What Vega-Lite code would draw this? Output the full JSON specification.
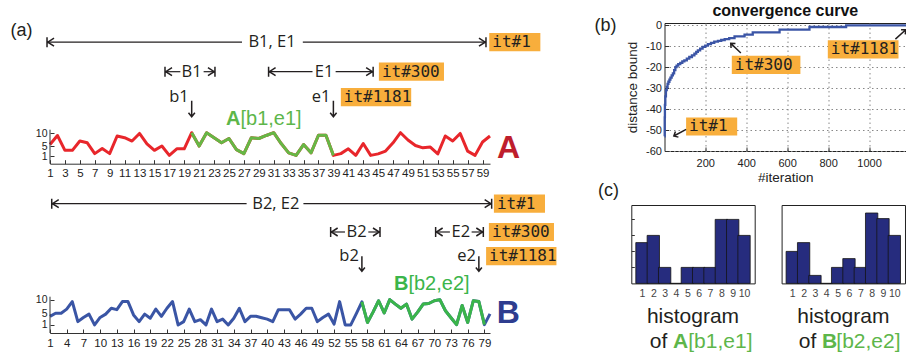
{
  "$schema": "https://vega.github.io/schema/vega-lite/v6.json",
  "padding": {"left": 9, "top": 2, "right": 0, "bottom": 0},
  "background": "white",
  "datasets": {
    "seriesA": [
      {"i":1,"v":5.6,"sel":false},{"i":2,"v":9.2,"sel":false},{"i":3,"v":3.3,"sel":false},{"i":4,"v":3.3,"sel":false},{"i":5,"v":7.0,"sel":false},
      {"i":6,"v":6.3,"sel":false},{"i":7,"v":2.0,"sel":false},{"i":8,"v":4.0,"sel":false},{"i":9,"v":2.0,"sel":false},{"i":10,"v":9.0,"sel":false},
      {"i":11,"v":8.3,"sel":false},{"i":12,"v":7.0,"sel":false},{"i":13,"v":10.0,"sel":false},{"i":14,"v":5.9,"sel":false},{"i":15,"v":3.3,"sel":false},
      {"i":16,"v":5.0,"sel":false},{"i":17,"v":1.3,"sel":false},{"i":18,"v":3.9,"sel":false},{"i":19,"v":3.9,"sel":false},{"i":20,"v":10.3,"sel":true},
      {"i":21,"v":5.0,"sel":true},{"i":22,"v":10.3,"sel":true},{"i":23,"v":8.3,"sel":true},{"i":24,"v":6.3,"sel":true},{"i":25,"v":8.0,"sel":true},
      {"i":26,"v":3.6,"sel":true},{"i":27,"v":2.0,"sel":true},{"i":28,"v":8.3,"sel":true},{"i":29,"v":8.0,"sel":true},{"i":30,"v":9.2,"sel":true},
      {"i":31,"v":10.3,"sel":true},{"i":32,"v":6.0,"sel":true},{"i":33,"v":2.3,"sel":true},{"i":34,"v":1.3,"sel":true},{"i":35,"v":5.6,"sel":true},
      {"i":36,"v":2.3,"sel":true},{"i":37,"v":9.3,"sel":true},{"i":38,"v":9.3,"sel":true},{"i":39,"v":1.3,"sel":true},{"i":40,"v":2.0,"sel":false},
      {"i":41,"v":3.9,"sel":false},{"i":42,"v":1.3,"sel":false},{"i":43,"v":6.0,"sel":false},{"i":44,"v":1.3,"sel":false},{"i":45,"v":1.9,"sel":false},
      {"i":46,"v":3.0,"sel":false},{"i":47,"v":6.3,"sel":false},{"i":48,"v":10.3,"sel":false},{"i":49,"v":7.4,"sel":false},{"i":50,"v":5.2,"sel":false},
      {"i":51,"v":4.3,"sel":false},{"i":52,"v":4.6,"sel":false},{"i":53,"v":1.9,"sel":false},{"i":54,"v":9.0,"sel":false},{"i":55,"v":7.0,"sel":false},
      {"i":56,"v":10.0,"sel":false},{"i":57,"v":3.0,"sel":false},{"i":58,"v":1.3,"sel":false},{"i":59,"v":6.6,"sel":false},{"i":60,"v":9.0,"sel":false}
    ],
    "seriesB": [
      {"i":1,"v":4.0,"sel":false},{"i":2,"v":5.1,"sel":false},{"i":3,"v":5.1,"sel":false},{"i":4,"v":6.6,"sel":false},{"i":5,"v":9.3,"sel":false},
      {"i":6,"v":2.1,"sel":false},{"i":7,"v":3.6,"sel":false},{"i":8,"v":4.8,"sel":false},{"i":9,"v":0.9,"sel":false},{"i":10,"v":3.6,"sel":false},
      {"i":11,"v":4.8,"sel":false},{"i":12,"v":6.9,"sel":false},{"i":13,"v":6.4,"sel":false},{"i":14,"v":9.3,"sel":false},{"i":15,"v":9.3,"sel":false},
      {"i":16,"v":4.5,"sel":false},{"i":17,"v":2.1,"sel":false},{"i":18,"v":4.8,"sel":false},{"i":19,"v":3.3,"sel":false},{"i":20,"v":6.6,"sel":false},
      {"i":21,"v":4.0,"sel":false},{"i":22,"v":6.9,"sel":false},{"i":23,"v":9.3,"sel":false},{"i":24,"v":0.9,"sel":false},{"i":25,"v":2.1,"sel":false},
      {"i":26,"v":6.6,"sel":false},{"i":27,"v":2.1,"sel":false},{"i":28,"v":2.8,"sel":false},{"i":29,"v":0.9,"sel":false},{"i":30,"v":6.6,"sel":false},
      {"i":31,"v":2.1,"sel":false},{"i":32,"v":3.0,"sel":false},{"i":33,"v":0.9,"sel":false},{"i":34,"v":3.3,"sel":false},{"i":35,"v":6.9,"sel":false},
      {"i":36,"v":2.1,"sel":false},{"i":37,"v":4.0,"sel":false},{"i":38,"v":4.0,"sel":false},{"i":39,"v":3.5,"sel":false},{"i":40,"v":3.0,"sel":false},
      {"i":41,"v":2.1,"sel":false},{"i":42,"v":6.4,"sel":false},{"i":43,"v":6.4,"sel":false},{"i":44,"v":6.4,"sel":false},{"i":45,"v":3.0,"sel":false},
      {"i":46,"v":4.8,"sel":false},{"i":47,"v":6.9,"sel":false},{"i":48,"v":6.9,"sel":false},{"i":49,"v":2.1,"sel":false},{"i":50,"v":3.6,"sel":false},
      {"i":51,"v":4.8,"sel":false},{"i":52,"v":1.2,"sel":false},{"i":53,"v":9.3,"sel":false},{"i":54,"v":0.9,"sel":false},{"i":55,"v":0.9,"sel":false},
      {"i":56,"v":5.0,"sel":false},{"i":57,"v":9.2,"sel":true},{"i":58,"v":1.8,"sel":true},{"i":59,"v":5.5,"sel":true},{"i":60,"v":9.6,"sel":true},
      {"i":61,"v":5.2,"sel":true},{"i":62,"v":10.0,"sel":true},{"i":63,"v":8.4,"sel":true},{"i":64,"v":6.9,"sel":true},{"i":65,"v":8.4,"sel":true},
      {"i":66,"v":3.0,"sel":true},{"i":67,"v":5.5,"sel":true},{"i":68,"v":8.4,"sel":true},{"i":69,"v":8.6,"sel":true},{"i":70,"v":9.6,"sel":true},
      {"i":71,"v":10.0,"sel":true},{"i":72,"v":6.0,"sel":true},{"i":73,"v":3.5,"sel":true},{"i":74,"v":1.0,"sel":true},{"i":75,"v":7.9,"sel":true},
      {"i":76,"v":1.8,"sel":true},{"i":77,"v":9.6,"sel":true},{"i":78,"v":9.3,"sel":true},{"i":79,"v":1.0,"sel":true},{"i":80,"v":4.9,"sel":false}
    ],
    "segA": [
      {"x":0.6,"x2":26.75,"y":46.21},{"x":34.9,"x2":59.46,"y":46.21},
      {"x":16.42,"x2":18.48,"y":34.51},{"x":21.6,"x2":23.12,"y":34.51},
      {"x":30.31,"x2":36.2,"y":34.51},{"x":39.3,"x2":44.33,"y":34.51}
    ],
    "headA": [
      {"x":0.6,"y":46.21,"dir":"L"},{"x":59.46,"y":46.21,"dir":"R"},
      {"x":16.42,"y":34.51,"dir":"L"},{"x":23.12,"y":34.51,"dir":"R"},
      {"x":30.31,"y":34.51,"dir":"L"},{"x":44.33,"y":34.51,"dir":"R"}
    ],
    "txtA": [{"x":30.77,"y":46.21,"t":"B1, E1"},{"x":19.99,"y":34.51,"t":"B1"},{"x":37.76,"y":34.51,"t":"E1"}],
    "ptrA": [{"x":20,"y":24.39,"ay":19.83,"t":"b1"},{"x":39,"y":24.39,"ay":19.83,"t":"e1"}],
    "itA": [{"x":59.9,"y":46.21,"lab":"it#1"},{"x":45.1,"y":34.51,"lab":"it#300"},{"x":40.0,"y":24.39,"lab":"it#1181"}],
    "segB": [
      {"x":1.31,"x2":36.3,"y":44.51},{"x":46.5,"x2":80.3,"y":44.51},
      {"x":51.39,"x2":53.96,"y":34.33},{"x":58.15,"x2":60.25,"y":34.33},
      {"x":70.24,"x2":72.8,"y":34.33},{"x":76.7,"x2":78.8,"y":34.33}
    ],
    "headB": [
      {"x":1.31,"y":44.51,"dir":"L"},{"x":80.3,"y":44.51,"dir":"R"},
      {"x":51.39,"y":34.33,"dir":"L"},{"x":60.25,"y":34.33,"dir":"R"},
      {"x":70.24,"y":34.33,"dir":"L"},{"x":78.8,"y":34.33,"dir":"R"}
    ],
    "txtB": [{"x":41.55,"y":44.51,"t":"B2, E2"},{"x":56.06,"y":34.33,"t":"B2"},{"x":74.75,"y":34.33,"t":"E2"}],
    "ptrB": [{"x":57,"y":25.63,"ay":22.93,"t":"b2"},{"x":78,"y":25.63,"ay":22.93,"t":"e2"}],
    "itB": [{"x":80.7,"y":44.51,"lab":"it#1"},{"x":79.8,"y":34.33,"lab":"it#300"},{"x":79.3,"y":25.63,"lab":"it#1181"}],
    "conv": [
      {"it":1,"d":-53},{"it":2,"d":-44},{"it":3,"d":-38},{"it":5,"d":-34},{"it":8,"d":-31},{"it":12,"d":-29.5},
      {"it":16,"d":-28},{"it":20,"d":-27},{"it":25,"d":-26},{"it":30,"d":-25},{"it":36,"d":-24},{"it":42,"d":-23},
      {"it":48,"d":-21.5},{"it":54,"d":-20},{"it":60,"d":-19.3},{"it":68,"d":-18.6},{"it":78,"d":-18},{"it":88,"d":-17.3},
      {"it":98,"d":-16.8},{"it":110,"d":-16},{"it":122,"d":-15.2},{"it":135,"d":-14.4},{"it":147,"d":-13.6},{"it":156,"d":-12.8},
      {"it":164,"d":-12},{"it":175,"d":-11.2},{"it":187,"d":-10.4},{"it":200,"d":-9.8},{"it":213,"d":-9.1},{"it":228,"d":-8.5},
      {"it":244,"d":-7.9},{"it":262,"d":-7.5},{"it":278,"d":-7.1},{"it":295,"d":-6.7},{"it":317,"d":-6.2},{"it":343,"d":-5.4},
      {"it":392,"d":-4.5},{"it":432,"d":-3.5},{"it":563,"d":-2.2},{"it":709,"d":-0.9},{"it":888,"d":-0.15},{"it":1181,"d":-0.15}
    ],
    "itC": [{"x":106.5,"y":-48.32,"lab":"it#1"},{"x":329.7,"y":-18.97,"lab":"it#300"},{"x":798.6,"y":-11.58,"lab":"it#1181"}],
    "arrC": [{"x":76.7,"y":-51.28,"lab":"it#1"},{"x":349.2,"y":-11.0,"lab":"it#300"},{"x":1154,"y":-4.43,"lab":"it#1181"}],
    "histA": [
      {"bin":1,"c":2.55},{"bin":2,"c":3.0},{"bin":3,"c":1.0},{"bin":4,"c":0},{"bin":5,"c":1.0},
      {"bin":6,"c":1.0},{"bin":7,"c":1.0},{"bin":8,"c":4.0},{"bin":9,"c":4.0},{"bin":10,"c":3.0}
    ],
    "histB": [
      {"bin":1,"c":2.0},{"bin":2,"c":2.55},{"bin":3,"c":0.5},{"bin":4,"c":0},{"bin":5,"c":1.0},
      {"bin":6,"c":1.55},{"bin":7,"c":1.0},{"bin":8,"c":4.4},{"bin":9,"c":4.05},{"bin":10,"c":3.0}
    ]
  },
  "spacing": -3,
  "vconcat": [
    {
      "spacing": 52.5,
      "hconcat": [
        {
          "width": 440,
          "height": 140.7,
          "layer": [
            {
              "data": {"name": "seriesA"},
              "mark": {"type": "line", "color": "#E8262B", "strokeWidth": 3, "strokeJoin": "round"},
              "encoding": {
                "x": {"field": "i", "type": "quantitative", "scale": {"domain": [1, 60], "nice": false, "zero": false},
                  "axis": {"values": [1,3,5,7,9,11,13,15,17,19,21,23,25,27,29,31,33,35,37,39,41,43,45,47,49,51,53,55,57,59], "tickCount": 100, "format": "d", "title": null, "tickSize": -4, "labelFontSize": 11.5, "labelPadding": 8, "labelOverlap": false, "labelFlush": false, "labelBound": false}},
                "y": {"field": "v", "type": "quantitative", "scale": {"domain": [-2, 53.83], "nice": false, "zero": false},
                  "axis": {"values": [1, 5, 10], "tickCount": 100, "format": "d", "title": null, "domain": false, "tickSize": -4, "labelFontSize": 10.5, "labelPadding": 7, "labelOverlap": false, "minExtent": 41, "maxExtent": 41}}
              }
            },
            {
              "data": {"name": "seriesA"},
              "transform": [{"filter": "datum.sel"}],
              "mark": {"type": "line", "color": "#66B745", "strokeWidth": 3, "strokeJoin": "round"},
              "encoding": {"x": {"field": "i", "type": "quantitative"}, "y": {"field": "v", "type": "quantitative"}}
            },
            {
              "data": {"values": [{}]},
              "mark": {"type": "rule", "color": "#333", "strokeWidth": 1},
              "encoding": {"x": {"datum": 1}, "y": {"datum": -2}, "y2": {"datum": 11.5}}
            },
            {
              "data": {"name": "segA"},
              "mark": {"type": "rule", "color": "#231F20", "strokeWidth": 1.2},
              "encoding": {"x": {"field": "x", "type": "quantitative"}, "x2": {"field": "x2"}, "y": {"field": "y", "type": "quantitative"}}
            },
            {
              "data": {"name": "headA"},
              "mark": {"type": "point", "filled": false, "size": 100, "strokeWidth": 1.5, "color": "#231F20", "opacity": 1},
              "encoding": {
                "x": {"field": "x", "type": "quantitative"}, "y": {"field": "y", "type": "quantitative"},
                "shape": {"condition": {"test": "datum.dir === 'L'", "value": "M0,-1V1M1.4,-0.8L0.15,0L1.4,0.8"}, "value": "M0,-1V1M-1.4,-0.8L-0.15,0L-1.4,0.8"}
              }
            },
            {
              "data": {"name": "txtA"},
              "mark": {"type": "text", "font": "Open Sans", "fontSize": 16.5, "color": "#231F20", "align": "center", "baseline": "middle"},
              "encoding": {"x": {"field": "x", "type": "quantitative"}, "y": {"field": "y", "type": "quantitative"}, "text": {"field": "t"}}
            },
            {
              "data": {"name": "ptrA"},
              "mark": {"type": "text", "font": "Open Sans", "fontSize": 16.5, "color": "#231F20", "align": "right", "baseline": "middle", "dx": -3},
              "encoding": {"x": {"field": "x", "type": "quantitative"}, "y": {"field": "y", "type": "quantitative"}, "text": {"field": "t"}}
            },
            {
              "data": {"name": "ptrA"},
              "mark": {"type": "point", "filled": false, "size": 256, "strokeWidth": 1.5, "color": "#231F20", "opacity": 1, "shape": "M0,-1V1M-0.4,0.5L0,1L0.4,0.5"},
              "encoding": {"x": {"field": "x", "type": "quantitative"}, "y": {"field": "ay", "type": "quantitative"}}
            },
            {
              "data": {"name": "itA"},
              "mark": {"type": "point", "filled": true, "size": 4900, "color": "#F8AE3C", "opacity": 1, "strokeWidth": 0},
              "encoding": {
                "x": {"field": "x", "type": "quantitative"}, "y": {"field": "y", "type": "quantitative"},
                "shape": {"condition": [{"test": "datum.lab === 'it#1'", "value": "M0,-0.26H1.46V0.26H0Z"}, {"test": "datum.lab === 'it#300'", "value": "M0,-0.26H1.86V0.26H0Z"}], "value": "M0,-0.26H2.01V0.26H0Z"}
              }
            },
            {
              "data": {"name": "itA"},
              "mark": {"type": "text", "font": "DejaVu Sans Mono", "fontSize": 16, "color": "#231F20", "align": "left", "baseline": "middle", "dx": 3},
              "encoding": {"x": {"field": "x", "type": "quantitative"}, "y": {"field": "y", "type": "quantitative"}, "text": {"field": "lab"}}
            },
            {
              "data": {"values": [{}]},
              "mark": {"type": "text", "font": "Liberation Sans", "fontSize": 20, "fontWeight": "bold", "color": "#5DB64A", "align": "right", "baseline": "middle"},
              "encoding": {"x": {"datum": 26.54}, "y": {"datum": 15.86}, "text": {"value": "A"}}
            },
            {
              "data": {"values": [{}]},
              "mark": {"type": "text", "font": "Liberation Sans", "fontSize": 20, "color": "#5DB64A", "align": "left", "baseline": "middle"},
              "encoding": {"x": {"datum": 26.54}, "y": {"datum": 15.86}, "text": {"value": "[b1,e1]"}}
            },
            {
              "data": {"values": [{}]},
              "mark": {"type": "text", "font": "Liberation Sans", "fontSize": 32, "fontWeight": "bold", "color": "#BE1E2D", "align": "center", "baseline": "middle"},
              "encoding": {"x": {"datum": 62.5}, "y": {"datum": 4.15}, "text": {"value": "A"}}
            },
            {
              "data": {"values": [{}]},
              "mark": {"type": "text", "font": "Liberation Sans", "fontSize": 18, "color": "#231F20", "align": "center", "baseline": "middle"},
              "encoding": {"x": {"datum": -2.82}, "y": {"datum": 50.58}, "text": {"value": "(a)"}}
            }
          ]
        },
        {
          "width": 241.6,
          "height": 128,
          "title": {"text": "convergence curve", "fontSize": 16, "fontWeight": "bold", "font": "Liberation Sans", "color": "#111", "offset": -1.7, "anchor": "middle"},
          "view": {"stroke": "#222", "strokeWidth": 1},
          "layer": [
            {
              "data": {"name": "conv"},
              "mark": {"type": "line", "interpolate": "step-after", "color": "#3B55A6", "strokeWidth": 2.3},
              "encoding": {
                "x": {"field": "it", "type": "quantitative", "scale": {"domain": [1, 1181], "nice": false, "zero": false},
                  "axis": {"values": [200, 400, 600, 800, 1000], "tickCount": 100, "format": "d", "title": "#iteration", "titleFontSize": 13.5, "titlePadding": 2, "grid": true, "gridDash": [1.5, 3], "gridColor": "#888", "domain": false, "tickSize": -4, "labelPadding": 10, "labelFontSize": 11, "labelFlush": false, "labelOverlap": false}},
                "y": {"field": "d", "type": "quantitative", "scale": {"domain": [-60, 1], "nice": false, "zero": false},
                  "axis": {"values": [-60, -50, -40, -30, -20, -10, 0], "tickCount": 100, "labelExpr": "datum.value + ''", "title": "distance bound", "titleFontSize": 13.5, "titlePadding": 6, "grid": true, "gridDash": [1.5, 3], "gridColor": "#888", "domain": false, "tickSize": -4, "labelPadding": 7, "labelFontSize": 11, "labelOverlap": false}}
              }
            },
            {
              "data": {"name": "itC"},
              "mark": {"type": "point", "filled": true, "size": 4900, "color": "#F8AE3C", "opacity": 1, "strokeWidth": 0},
              "encoding": {
                "x": {"field": "x", "type": "quantitative"}, "y": {"field": "y", "type": "quantitative"},
                "shape": {"condition": [{"test": "datum.lab === 'it#1'", "value": "M0,-0.26H1.46V0.26H0Z"}, {"test": "datum.lab === 'it#300'", "value": "M0,-0.26H1.96V0.26H0Z"}], "value": "M0,-0.26H2.02V0.26H0Z"}
              }
            },
            {
              "data": {"name": "itC"},
              "mark": {"type": "text", "font": "DejaVu Sans Mono", "fontSize": 16, "color": "#231F20", "align": "left", "baseline": "middle", "dx": 3},
              "encoding": {"x": {"field": "x", "type": "quantitative"}, "y": {"field": "y", "type": "quantitative"}, "text": {"field": "lab"}}
            },
            {
              "data": {"name": "arrC"},
              "mark": {"type": "point", "filled": false, "size": 196, "strokeWidth": 1.5, "color": "#231F20", "opacity": 1},
              "encoding": {
                "x": {"field": "x", "type": "quantitative"}, "y": {"field": "y", "type": "quantitative"},
                "shape": {"condition": [{"test": "datum.lab === 'it#1'", "value": "M0.879,-0.471L-0.879,0.471M-0.228,0.631L-0.879,0.471L-0.651,-0.160"}, {"test": "datum.lab === 'it#300'", "value": "M0.723,0.692L-0.723,-0.692M-0.050,-0.671L-0.723,-0.692L-0.673,-0.021"}], "value": "M-0.740,0.673L0.740,-0.673M0.673,-0.004L0.740,-0.673L0.067,-0.670"}
              }
            },
            {
              "data": {"values": [{}]},
              "mark": {"type": "text", "font": "Liberation Sans", "fontSize": 18, "color": "#231F20", "align": "center", "baseline": "middle"},
              "encoding": {"x": {"datum": -287.2}, "y": {"datum": -0.62}, "text": {"value": "(b)"}}
            }
          ]
        }
      ]
    },
    {
      "spacing": 25.3,
      "hconcat": [
        {
          "width": 440,
          "height": 128,
          "layer": [
            {
              "data": {"name": "seriesB"},
              "mark": {"type": "line", "color": "#3A55A5", "strokeWidth": 3, "strokeJoin": "round"},
              "encoding": {
                "x": {"field": "i", "type": "quantitative", "scale": {"domain": [1, 80], "nice": false, "zero": false},
                  "axis": {"values": [1,4,7,10,13,16,19,22,25,28,31,34,37,40,43,46,49,52,55,58,61,64,67,70,73,76,79], "tickCount": 100, "format": "d", "title": null, "tickSize": -4, "labelFontSize": 11.5, "labelPadding": 8, "labelOverlap": false, "labelFlush": false, "labelBound": false}},
                "y": {"field": "v", "type": "quantitative", "scale": {"domain": [-2, 44.04], "nice": false, "zero": false},
                  "axis": {"values": [1, 5, 10], "tickCount": 100, "format": "d", "title": null, "domain": false, "tickSize": -4, "labelFontSize": 10.5, "labelPadding": 7, "labelOverlap": false, "minExtent": 41, "maxExtent": 41}}
              }
            },
            {
              "data": {"name": "seriesB"},
              "transform": [{"filter": "datum.sel"}],
              "mark": {"type": "line", "color": "#3AB54A", "strokeWidth": 3, "strokeJoin": "round"},
              "encoding": {"x": {"field": "i", "type": "quantitative"}, "y": {"field": "v", "type": "quantitative"}}
            },
            {
              "data": {"values": [{}]},
              "mark": {"type": "rule", "color": "#333", "strokeWidth": 1},
              "encoding": {"x": {"datum": 1}, "y": {"datum": -2}, "y2": {"datum": 11.06}}
            },
            {
              "data": {"name": "segB"},
              "mark": {"type": "rule", "color": "#231F20", "strokeWidth": 1.2},
              "encoding": {"x": {"field": "x", "type": "quantitative"}, "x2": {"field": "x2"}, "y": {"field": "y", "type": "quantitative"}}
            },
            {
              "data": {"name": "headB"},
              "mark": {"type": "point", "filled": false, "size": 100, "strokeWidth": 1.5, "color": "#231F20", "opacity": 1},
              "encoding": {
                "x": {"field": "x", "type": "quantitative"}, "y": {"field": "y", "type": "quantitative"},
                "shape": {"condition": {"test": "datum.dir === 'L'", "value": "M0,-1V1M1.4,-0.8L0.15,0L1.4,0.8"}, "value": "M0,-1V1M-1.4,-0.8L-0.15,0L-1.4,0.8"}
              }
            },
            {
              "data": {"name": "txtB"},
              "mark": {"type": "text", "font": "Open Sans", "fontSize": 16.5, "color": "#231F20", "align": "center", "baseline": "middle"},
              "encoding": {"x": {"field": "x", "type": "quantitative"}, "y": {"field": "y", "type": "quantitative"}, "text": {"field": "t"}}
            },
            {
              "data": {"name": "ptrB"},
              "mark": {"type": "text", "font": "Open Sans", "fontSize": 16.5, "color": "#231F20", "align": "right", "baseline": "middle", "dx": -3},
              "encoding": {"x": {"field": "x", "type": "quantitative"}, "y": {"field": "y", "type": "quantitative"}, "text": {"field": "t"}}
            },
            {
              "data": {"name": "ptrB"},
              "mark": {"type": "point", "filled": false, "size": 225, "strokeWidth": 1.5, "color": "#231F20", "opacity": 1, "shape": "M0,-1V1M-0.4,0.5L0,1L0.4,0.5"},
              "encoding": {"x": {"field": "x", "type": "quantitative"}, "y": {"field": "ay", "type": "quantitative"}}
            },
            {
              "data": {"name": "itB"},
              "mark": {"type": "point", "filled": true, "size": 4900, "color": "#F8AE3C", "opacity": 1, "strokeWidth": 0},
              "encoding": {
                "x": {"field": "x", "type": "quantitative"}, "y": {"field": "y", "type": "quantitative"},
                "shape": {"condition": [{"test": "datum.lab === 'it#1'", "value": "M0,-0.26H1.46V0.26H0Z"}, {"test": "datum.lab === 'it#300'", "value": "M0,-0.26H1.86V0.26H0Z"}], "value": "M0,-0.26H2.01V0.26H0Z"}
              }
            },
            {
              "data": {"name": "itB"},
              "mark": {"type": "text", "font": "DejaVu Sans Mono", "fontSize": 16, "color": "#231F20", "align": "left", "baseline": "middle", "dx": 3},
              "encoding": {"x": {"field": "x", "type": "quantitative"}, "y": {"field": "y", "type": "quantitative"}, "text": {"field": "lab"}}
            },
            {
              "data": {"values": [{}]},
              "mark": {"type": "text", "font": "Liberation Sans", "fontSize": 20, "fontWeight": "bold", "color": "#3BB54A", "align": "right", "baseline": "middle"},
              "encoding": {"x": {"datum": 65.35}, "y": {"datum": 15.73}, "text": {"value": "B"}}
            },
            {
              "data": {"values": [{}]},
              "mark": {"type": "text", "font": "Liberation Sans", "fontSize": 20, "color": "#3BB54A", "align": "left", "baseline": "middle"},
              "encoding": {"x": {"datum": 65.35}, "y": {"datum": 15.73}, "text": {"value": "[b2,e2]"}}
            },
            {
              "data": {"values": [{}]},
              "mark": {"type": "text", "font": "Liberation Sans", "fontSize": 32, "fontWeight": "bold", "color": "#2E3D8F", "align": "center", "baseline": "middle"},
              "encoding": {"x": {"datum": 83.3}, "y": {"datum": 5.3}, "text": {"value": "B"}}
            }
          ]
        },
        {
          "width": 123.4,
          "height": 78.4,
          "view": {"stroke": "#222", "strokeWidth": 1},
          "layer": [
            {
              "data": {"name": "histA"},
              "mark": {"type": "bar", "size": 12.34, "color": "#262C7E", "stroke": "#141414", "strokeWidth": 0.8},
              "encoding": {
                "x": {"field": "bin", "type": "quantitative", "scale": {"domain": [0.5, 10.5], "nice": false, "zero": false},
                  "axis": {"values": [1,2,3,4,5,6,7,8,9,10], "tickCount": 100, "format": "d", "title": null, "domain": false, "ticks": false, "labelFontSize": 10.5, "labelColor": "#444", "labelPadding": 5, "labelFlush": false, "labelOverlap": false}},
                "y": {"field": "c", "type": "quantitative", "scale": {"domain": [0, 4.9], "nice": false},
                  "axis": {"values": [1, 2, 3, 4], "tickCount": 100, "title": null, "labels": false, "domain": false, "tickSize": -3, "minExtent": 48.5, "maxExtent": 48.5}}
              }
            },
            {
              "data": {"values": [{}]},
              "mark": {"type": "text", "font": "Liberation Sans", "fontSize": 18, "color": "#231F20", "align": "center", "baseline": "middle"},
              "encoding": {"x": {"datum": -1.955}, "y": {"datum": 5.79}, "text": {"value": "(c)"}}
            },
            {
              "data": {"values": [{}]},
              "mark": {"type": "text", "font": "Liberation Sans", "fontSize": 21, "color": "#231F20", "align": "center", "baseline": "middle"},
              "encoding": {"x": {"datum": 5.5}, "y": {"datum": -2.125}, "text": {"value": "histogram"}}
            },
            {
              "data": {"values": [{}]},
              "mark": {"type": "text", "font": "Liberation Sans", "fontSize": 21, "color": "#231F20", "align": "right", "baseline": "middle", "dx": -5.8},
              "encoding": {"x": {"datum": 3.74}, "y": {"datum": -3.69}, "text": {"value": "of"}}
            },
            {
              "data": {"values": [{}]},
              "mark": {"type": "text", "font": "Liberation Sans", "fontSize": 21, "fontWeight": "bold", "color": "#5DB64A", "align": "left", "baseline": "middle"},
              "encoding": {"x": {"datum": 3.74}, "y": {"datum": -3.69}, "text": {"value": "A"}}
            },
            {
              "data": {"values": [{}]},
              "mark": {"type": "text", "font": "Liberation Sans", "fontSize": 21, "color": "#5DB64A", "align": "left", "baseline": "middle", "dx": 15.2},
              "encoding": {"x": {"datum": 3.74}, "y": {"datum": -3.69}, "text": {"value": "[b1,e1]"}}
            }
          ]
        },
        {
          "width": 123.4,
          "height": 78.4,
          "view": {"stroke": "#222", "strokeWidth": 1},
          "layer": [
            {
              "data": {"name": "histB"},
              "mark": {"type": "bar", "size": 12.34, "color": "#262C7E", "stroke": "#141414", "strokeWidth": 0.8},
              "encoding": {
                "x": {"field": "bin", "type": "quantitative", "scale": {"domain": [0.5, 10.5], "nice": false, "zero": false},
                  "axis": {"values": [1,2,3,4,5,6,7,8,9,10], "tickCount": 100, "format": "d", "title": null, "domain": false, "ticks": false, "labelFontSize": 10.5, "labelColor": "#444", "labelPadding": 5, "labelFlush": false, "labelOverlap": false}},
                "y": {"field": "c", "type": "quantitative", "scale": {"domain": [0, 4.9], "nice": false}, "axis": null}
              }
            },
            {
              "data": {"values": [{}]},
              "mark": {"type": "text", "font": "Liberation Sans", "fontSize": 21, "color": "#231F20", "align": "center", "baseline": "middle"},
              "encoding": {"x": {"datum": 5.5}, "y": {"datum": -2.125}, "text": {"value": "histogram"}}
            },
            {
              "data": {"values": [{}]},
              "mark": {"type": "text", "font": "Liberation Sans", "fontSize": 21, "color": "#231F20", "align": "right", "baseline": "middle", "dx": -5.8},
              "encoding": {"x": {"datum": 3.63}, "y": {"datum": -3.69}, "text": {"value": "of"}}
            },
            {
              "data": {"values": [{}]},
              "mark": {"type": "text", "font": "Liberation Sans", "fontSize": 21, "fontWeight": "bold", "color": "#5DB64A", "align": "left", "baseline": "middle"},
              "encoding": {"x": {"datum": 3.63}, "y": {"datum": -3.69}, "text": {"value": "B"}}
            },
            {
              "data": {"values": [{}]},
              "mark": {"type": "text", "font": "Liberation Sans", "fontSize": 21, "color": "#5DB64A", "align": "left", "baseline": "middle", "dx": 14.2},
              "encoding": {"x": {"datum": 3.63}, "y": {"datum": -3.69}, "text": {"value": "[b2,e2]"}}
            }
          ]
        }
      ]
    }
  ],
  "config": {
    "view": {"stroke": null},
    "axis": {"labelFont": "Liberation Sans", "titleFont": "Liberation Sans", "labelColor": "#222", "titleColor": "#222", "tickColor": "#333", "domainColor": "#333", "titleFontWeight": "normal", "grid": false, "labelOverlap": false}
  }
}
